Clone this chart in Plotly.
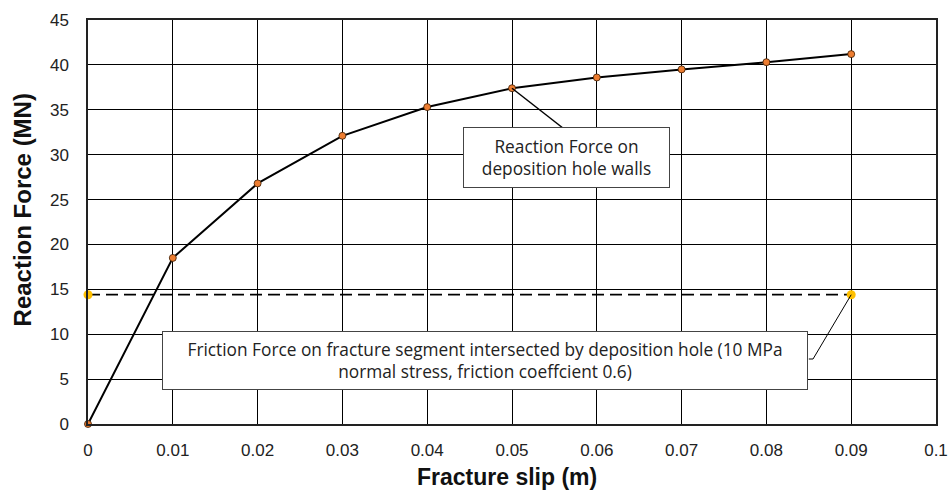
import plotly.graph_objects as go

slip = [0, 0.01, 0.02, 0.03, 0.04, 0.05, 0.06, 0.07, 0.08, 0.09]
reaction = [0, 18.5, 26.8, 32.1, 35.3, 37.4, 38.6, 39.5, 40.3, 41.2]
friction_x = [0, 0.09]
friction_y = [14.4, 14.4]

x_ticks = [0, 0.01, 0.02, 0.03, 0.04, 0.05, 0.06, 0.07, 0.08, 0.09, 0.1]
x_ticklabels = ["0", "0.01", "0.02", "0.03", "0.04", "0.05", "0.06", "0.07", "0.08", "0.09", "0.1"]
y_ticks = [0, 5, 10, 15, 20, 25, 30, 35, 40, 45]

x_title = "Fracture slip (m)"
y_title = "Reaction Force (MN)"
label_reaction = "Reaction Force on<br>deposition hole walls"
label_friction = ("Friction Force on fracture segment intersected by deposition hole (10 MPa<br>"
                  "normal stress, friction coeffcient 0.6)")

fig = go.Figure()

fig.add_trace(go.Scatter(
    x=friction_x, y=friction_y, mode="lines+markers",
    line=dict(color="black", width=1.8, dash="12px,6px"),
    marker=dict(color="#FFC000", size=9, line=dict(width=0)),
    showlegend=False, cliponaxis=False,
))
fig.add_trace(go.Scatter(
    x=slip, y=reaction, mode="lines+markers",
    line=dict(color="black", width=2),
    marker=dict(color="#ED7D31", size=7, line=dict(color="#3a1a00", width=0.8)),
    showlegend=False, cliponaxis=False,
))

# leader lines (from data points to label boxes)
fig.add_shape(type="line", xref="x", yref="y",
              x0=slip[5], y0=reaction[5], x1=0.0560, y1=32.97,
              line=dict(color="black", width=1.5), layer="above")
fig.add_shape(type="path", xref="x", yref="y",
              path=f"M {friction_x[1]},{friction_y[1]} L 0.0855,7.24 L 0.0850,7.24",
              line=dict(color="black", width=1), layer="above")

font_lbl = dict(family="Open Sans", size=17.3, color="#222222")
fig.add_annotation(x=0.05643, y=29.68, xref="x", yref="y", text=label_reaction,
                   showarrow=False, font=font_lbl, bgcolor="white",
                   bordercolor="#444444", borderwidth=1, width=203, height=57,
                   align="center", valign="middle")
fig.add_annotation(x=0.04682, y=7.07, xref="x", yref="y", text=label_friction,
                   showarrow=False, font=font_lbl, bgcolor="white",
                   bordercolor="#444444", borderwidth=1, width=642, height=55,
                   align="center", valign="middle")

fig.add_annotation(x=0.494, y=-0.13, xref="paper", yref="paper",
                   text=f"<b>{x_title}</b>", showarrow=False,
                   font=dict(family="Liberation Sans", size=23, color="#111111"),
                   xanchor="center", yanchor="middle")
fig.add_annotation(x=-0.0772, y=0.53, xref="paper", yref="paper",
                   text=f"<b>{y_title}</b>", showarrow=False, textangle=-90,
                   font=dict(family="Liberation Sans", size=24, color="#111111"),
                   xanchor="center", yanchor="middle")

axis_common = dict(
    showgrid=True, gridcolor="black", gridwidth=1,
    showline=True, linecolor="#222222", linewidth=1.5, mirror=True,
    ticks="", zeroline=False, automargin=False,
    tickfont=dict(family="Liberation Sans", size=17, color="#222222"),
)

fig.update_xaxes(range=[0, 0.1], tickvals=x_ticks, ticktext=x_ticklabels,
                 ticklabelstandoff=10, **axis_common)
fig.update_yaxes(range=[0, 45], tickvals=y_ticks, ticklabelstandoff=14,
                 **axis_common)

fig.update_layout(
    width=950, height=490,
    margin=dict(l=88, r=14, t=20, b=66),
    paper_bgcolor="white", plot_bgcolor="white",
)

fig.write_html("out.html")
